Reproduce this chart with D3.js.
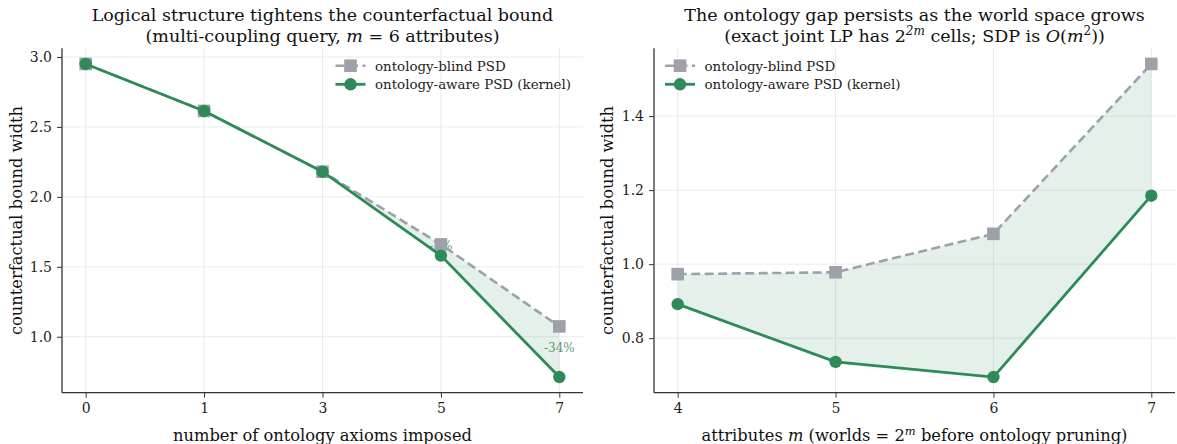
<!DOCTYPE html>
<html>
<head>
<meta charset="utf-8">
<script src="https://cdn.jsdelivr.net/npm/d3@7"></script>
<style>
  html, body { margin: 0; padding: 0; background: #fff; }
  svg { display: block; font-family: "DejaVu Serif", serif; }
</style>
</head>
<body>
<svg id="chart" width="1177" height="444"></svg>
<script>
// Panel A: bound width vs number of ontology axioms (m = 6)
const axiomLabels = ["0", "1", "3", "5", "7"];
const blindByAxioms = [2.95, 2.614, 2.18, 1.66, 1.074];
const awareByAxioms = [2.95, 2.614, 2.18, 1.58, 0.712];

// Panel B: bound width vs number of attributes m
const attributes = [4, 5, 6, 7];
const blindByAttr = [0.973, 0.978, 1.082, 1.541];
const awareByAttr = [0.892, 0.736, 0.695, 1.185];

const seriesNames = ["ontology-blind PSD", "ontology-aware PSD (kernel)"];

const GREEN = "#2e8b57";
const GRAY = "#9ea1aa";
const GRID = "#ebebeb";
const AXIS = "#333";

const svg = d3.select("#chart");

function paddedExtent(values, frac) {
  const [lo, hi] = d3.extent(values);
  const pad = (hi - lo) * frac;
  return [lo - pad, hi + pad];
}

function addRich(textSel, parts, supSize) {
  parts.forEach(p => {
    const s = textSel.append("tspan").text(p.t);
    if (p.i) s.style("font-style", "italic");
    if (p.sup) s.attr("dy", -6.5).style("font-size", supSize);
    if (p.sub) s.attr("dy", 6.5);
  });
}

function drawPanel(opts) {
  const { left, right, top, bottom, xs, xDomain, xTickFmt, blind, aware,
          yTicks, yTickFmt, legendX, titleLines, xLabel, yLabelX, pctLabels } = opts;
  const g = svg.append("g");
  const x = d3.scaleLinear().domain(xDomain).range([left, right]);
  const y = d3.scaleLinear().domain(paddedExtent(blind.concat(aware), 0.05)).range([bottom, top]);

  // grid
  g.append("g").selectAll("line").data(xs).join("line")
    .attr("x1", d => x(d)).attr("x2", d => x(d))
    .attr("y1", top).attr("y2", bottom)
    .attr("stroke", GRID).attr("stroke-width", 1);
  g.append("g").selectAll("line").data(yTicks).join("line")
    .attr("x1", left).attr("x2", right)
    .attr("y1", d => y(d)).attr("y2", d => y(d))
    .attr("stroke", GRID).attr("stroke-width", 1);

  // axes
  const xAxis = d3.axisBottom(x).tickValues(xs).tickFormat(xTickFmt).tickSize(5).tickPadding(5);
  const yAxis = d3.axisLeft(y).tickValues(yTicks).tickFormat(yTickFmt).tickSize(5).tickPadding(5);
  const gx = g.append("g").attr("transform", `translate(0,${bottom})`).call(xAxis);
  const gy = g.append("g").attr("transform", `translate(${left},0)`).call(yAxis);
  [gx, gy].forEach(a => {
    a.select(".domain").attr("stroke", AXIS).attr("stroke-width", 1.3);
    a.selectAll(".tick line").attr("stroke", AXIS).attr("stroke-width", 1);
    a.selectAll(".tick text").attr("fill", "#222").style("font-size", "14px")
      .style("font-family", "DejaVu Serif, serif");
  });
  gx.select(".domain").attr("d", `M${left},0H${right}`);
  gy.select(".domain").attr("d", `M0,${top}V${bottom}`);

  // shaded gap between the two series
  const pts = xs.map((v, i) => ({ x: v, b: blind[i], a: aware[i] }));
  g.append("path").datum(pts)
    .attr("d", d3.area().x(d => x(d.x)).y0(d => y(d.a)).y1(d => y(d.b)))
    .attr("fill", GREEN).attr("fill-opacity", 0.13);

  // percentage labels sit at the midpoint of each gap, beneath the markers
  if (pctLabels) {
    g.append("g").selectAll("text").data(pts.filter(d => Math.abs((d.a - d.b) / d.b) >= 0.01)).join("text")
      .attr("x", d => x(d.x)).attr("y", d => y((d.a + d.b) / 2))
      .attr("text-anchor", "middle").style("font-size", "12px")
      .attr("fill", GREEN).attr("fill-opacity", 0.85)
      .text(d => `${Math.round((d.a - d.b) / d.b * 100)}%`);
  }

  // blind series: dashed gray with squares
  g.append("path").datum(pts)
    .attr("d", d3.line().x(d => x(d.x)).y(d => y(d.b)))
    .attr("fill", "none").attr("stroke", GRAY).attr("stroke-width", 2.6)
    .attr("stroke-dasharray", "9,4.5");
  g.append("g").selectAll("rect").data(pts).join("rect")
    .attr("x", d => x(d.x) - 6.3).attr("y", d => y(d.b) - 6.3)
    .attr("width", 12.6).attr("height", 12.6).attr("fill", GRAY);

  // aware series: solid green with circles
  g.append("path").datum(pts)
    .attr("d", d3.line().x(d => x(d.x)).y(d => y(d.a)))
    .attr("fill", "none").attr("stroke", GREEN).attr("stroke-width", 2.8);
  g.append("g").selectAll("circle").data(pts).join("circle")
    .attr("cx", d => x(d.x)).attr("cy", d => y(d.a)).attr("r", 6.2).attr("fill", GREEN);

  // legend
  const lg = g.append("g");
  seriesNames.forEach((name, i) => {
    const ly = 65.7 + i * 18.6;
    const row = lg.append("g");
    if (i === 0) {
      row.append("line").attr("x1", legendX).attr("x2", legendX + 30).attr("y1", ly).attr("y2", ly)
        .attr("stroke", GRAY).attr("stroke-width", 2.6).attr("stroke-dasharray", "9,4.5");
      row.append("rect").attr("x", legendX + 15 - 6.3).attr("y", ly - 6.3)
        .attr("width", 12.6).attr("height", 12.6).attr("fill", GRAY);
    } else {
      row.append("line").attr("x1", legendX).attr("x2", legendX + 30).attr("y1", ly).attr("y2", ly)
        .attr("stroke", GREEN).attr("stroke-width", 2.8);
      row.append("circle").attr("cx", legendX + 15).attr("cy", ly).attr("r", 6.2).attr("fill", GREEN);
    }
    row.append("text").attr("x", legendX + 39.5).attr("y", ly + 4.8)
      .style("font-size", "13.4px").attr("fill", "#222").text(name);
  });

  // title
  const cx = (left + right) / 2;
  titleLines.forEach((parts, i) => {
    const t = g.append("text").attr("x", cx).attr("y", 20.5 + i * 21)
      .attr("text-anchor", "middle").style("font-size", "17.5px").attr("fill", "#111");
    addRich(t, parts, "12px");
  });

  // x label
  const xl = g.append("text").attr("x", cx).attr("y", 441).attr("text-anchor", "middle")
    .style("font-size", "16.3px").attr("fill", "#111");
  addRich(xl, xLabel, "11.5px");

  // y label
  g.append("text").attr("transform", `translate(${yLabelX},${(top + bottom) / 2}) rotate(-90)`)
    .attr("text-anchor", "middle").style("font-size", "16.3px").attr("fill", "#111")
    .text("counterfactual bound width");
}

const idx = axiomLabels.map((_, i) => i);

drawPanel({
  left: 62, right: 583, top: 48.3, bottom: 392.7,
  xs: idx, xDomain: [-0.2, 4.2], xTickFmt: i => axiomLabels[i],
  blind: blindByAxioms, aware: awareByAxioms,
  yTicks: [1.0, 1.5, 2.0, 2.5, 3.0], yTickFmt: d3.format(".1f"),
  legendX: 335.5,
  titleLines: [
    [{ t: "Logical structure tightens the counterfactual bound" }],
    [{ t: "(multi-coupling query, " }, { t: "m", i: true }, { t: " = 6 attributes)" }]
  ],
  xLabel: [{ t: "number of ontology axioms imposed" }],
  yLabelX: 21.5,
  pctLabels: true
});

drawPanel({
  left: 654, right: 1175, top: 48.3, bottom: 392.7,
  xs: attributes, xDomain: [3.85, 7.15], xTickFmt: d3.format("d"),
  blind: blindByAttr, aware: awareByAttr,
  yTicks: [0.8, 1.0, 1.2, 1.4], yTickFmt: d3.format(".1f"),
  legendX: 665,
  titleLines: [
    [{ t: "The ontology gap persists as the world space grows" }],
    [{ t: "(exact joint LP has 2" }, { t: "2m", i: true, sup: true }, { t: " cells; SDP is ", sub: true },
     { t: "O", i: true }, { t: "(" }, { t: "m", i: true }, { t: "2", sup: true }, { t: "))", sub: true }]
  ],
  xLabel: [{ t: "attributes " }, { t: "m", i: true }, { t: " (worlds  = 2" }, { t: "m", i: true, sup: true },
           { t: " before ontology pruning)", sub: true }],
  yLabelX: 612.5,
  pctLabels: false
});
</script>
</body>
</html>
